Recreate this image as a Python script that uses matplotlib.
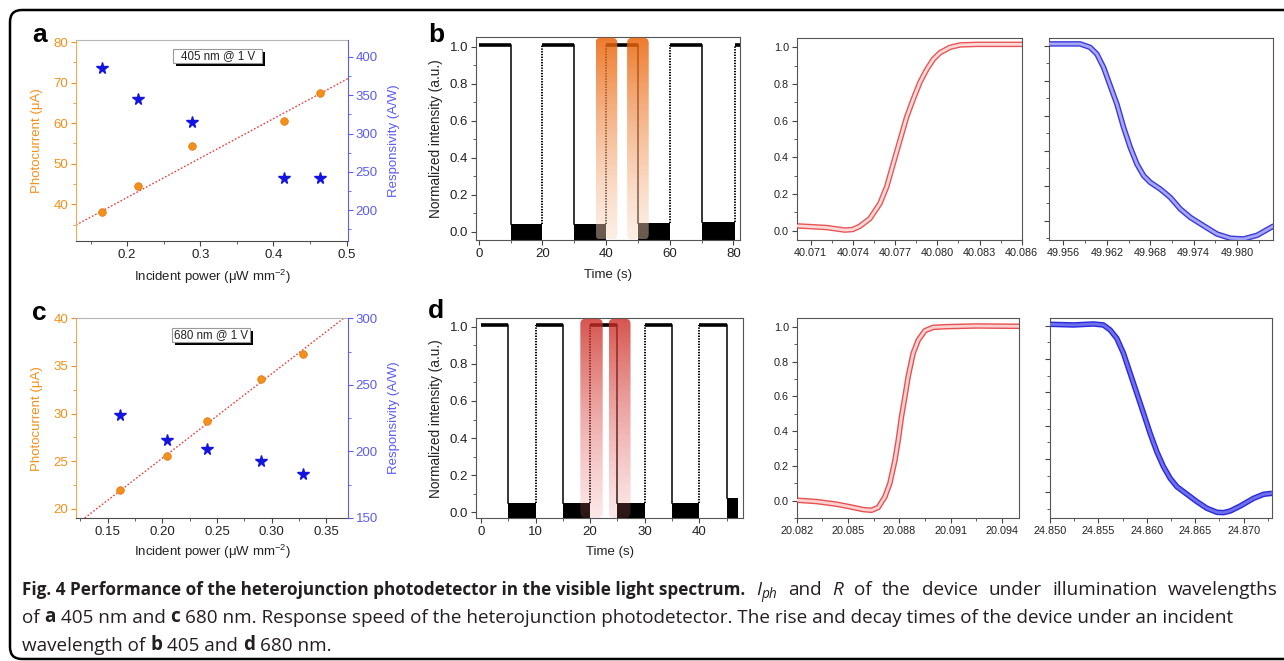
import numpy as np
import matplotlib
matplotlib.use("Agg")
import matplotlib.pyplot as plt
from matplotlib import font_manager as fm
from matplotlib.patches import FancyBboxPatch, Rectangle
from matplotlib.colors import LinearSegmentedColormap
from matplotlib.ticker import (MultipleLocator, AutoMinorLocator,
                               FormatStrFormatter, FixedLocator)

# ------------------------------------------------------------------ data
# panel a : 405 nm @ 1 V
a_power = [0.165, 0.215, 0.288, 0.415, 0.464]
a_photocurrent = [38.0, 44.4, 54.4, 60.5, 67.4]
a_responsivity = [385.5, 345.0, 315.0, 242.5, 242.5]
a_fit_power = [0.130, 0.502]
a_fit_current = [34.9, 71.0]

# panel c : 680 nm @ 1 V
c_power = [0.161, 0.204, 0.241, 0.290, 0.329]
c_photocurrent = [21.96, 25.6, 29.2, 33.6, 36.3]
c_responsivity = [227.6, 208.3, 202.0, 192.7, 183.2]
c_fit_power = [0.129, 0.366]
c_fit_current = [19.05, 40.0]

# panel b : on/off switching (405 nm)
b_high_start = [0, 20, 40, 60, 80.5]
b_high_end = [10, 30, 50, 70, 82.2]
b_high_level = 1.012
b_low_start = [10, 30, 50, 70]
b_low_end = [20, 40, 60, 80.5]
b_low_top = [0.042, 0.042, 0.045, 0.052]
b_floor = -0.06
b_hl_start = [36.7, 46.6]
b_hl_end = [43.5, 53.4]

# panel d : on/off switching (680 nm)
d_high_start = [0, 10, 20, 30, 40]
d_high_end = [5, 15, 25, 35, 45]
d_high_level = 1.008
d_low_start = [5, 15, 25, 35, 45]
d_low_end = [10, 20, 30, 40, 47.1]
d_low_top = [0.05, 0.05, 0.05, 0.05, 0.075]
d_floor = -0.05
d_hl_start = [18.2, 23.4]
d_hl_end = [22.3, 27.4]

# rise (b, 405 nm)
b_rise_t = [40.07000, 40.07212, 40.07342, 40.07397, 40.07449, 40.07521,
            40.07592, 40.07640, 40.07687, 40.07735, 40.07782, 40.07830,
            40.07877, 40.07925, 40.07972, 40.08020, 40.08091, 40.08163,
            40.08281, 40.08602]
b_rise_v = [0.027, 0.018, 0.004, 0.007, 0.025, 0.067, 0.149, 0.24, 0.367,
            0.495, 0.62, 0.72, 0.81, 0.88, 0.935, 0.971, 1.0, 1.013, 1.016,
            1.016]
b_rise_xticks = [40.071, 40.074, 40.077, 40.080, 40.083, 40.086]

# decay (b, 405 nm)
b_decay_t = [49.95402, 49.95831, 49.95969, 49.96062, 49.96154, 49.96246,
             49.96338, 49.96431, 49.96523, 49.96615, 49.96708, 49.96800,
             49.96938, 49.97077, 49.97215, 49.97354, 49.97538, 49.97723,
             49.97908, 49.98092, 49.98277, 49.98508]
b_decay_v = [1.01, 1.01, 0.99, 0.952, 0.876, 0.771, 0.667, 0.533, 0.419,
             0.324, 0.257, 0.219, 0.181, 0.133, 0.067, 0.019, -0.029, -0.076,
             -0.100, -0.104, -0.083, -0.029]
b_decay_xticks = [49.956, 49.962, 49.968, 49.974, 49.980]

# rise (d, 680 nm)
d_rise_t = [20.08200, 20.08317, 20.08433, 20.08511, 20.08589, 20.08637,
            20.08676, 20.08715, 20.08744, 20.08774, 20.08793, 20.08812,
            20.08832, 20.08851, 20.08880, 20.08910, 20.08949, 20.08997,
            20.09075, 20.09250, 20.09499]
d_rise_v = [0.004, -0.004, -0.019, -0.034, -0.050, -0.054, -0.038, 0.023,
            0.10, 0.234, 0.349, 0.483, 0.598, 0.713, 0.847, 0.923, 0.977,
            0.996, 1.0, 1.004, 1.002]
d_rise_xticks = [20.082, 20.085, 20.088, 20.091, 20.094]

# decay (d, 680 nm)
d_decay_t = [24.85000, 24.85241, 24.85448, 24.85552, 24.85621, 24.85690,
             24.85759, 24.85828, 24.85897, 24.85966, 24.86034, 24.86103,
             24.86172, 24.86241, 24.86310, 24.86379, 24.86448, 24.86517,
             24.86621, 24.86724, 24.86793, 24.86862, 24.86966, 24.87103,
             24.87207, 24.87293]
d_decay_v = [1.008, 1.004, 1.01, 1.004, 0.974, 0.924, 0.834, 0.714, 0.594,
             0.474, 0.354, 0.244, 0.154, 0.084, 0.034, 0.004, -0.026, -0.056,
             -0.096, -0.12, -0.122, -0.112, -0.082, -0.036, -0.012, -0.006]
d_decay_xticks = [24.850, 24.855, 24.860, 24.865, 24.870]

norm_yticks = [0.0, 0.2, 0.4, 0.6, 0.8, 1.0]

# ------------------------------------------------------------------ style
plt.rcParams['font.family'] = ['Liberation Sans', 'DejaVu Sans']
plt.rcParams['mathtext.fontset'] = 'custom'
plt.rcParams['mathtext.rm'] = 'Liberation Sans'
plt.rcParams['mathtext.it'] = 'Liberation Sans:italic'
plt.rcParams['mathtext.bf'] = 'Liberation Sans:bold'
plt.rcParams['axes.linewidth'] = 0.8

ORANGE = '#F39019'
ORANGE_DARK = '#E07810'
ORANGE_SPINE = '#F5A84E'
BLUE_AX = '#5C5CF2'
STAR_BLUE = '#1414E0'
FIT_RED = '#E8413C'
DARK = '#222222'

_avail = {f.name for f in fm.fontManager.ttflist}
if 'Liberation Sans Narrow' in _avail:
    CAP_FAMILY, CAP_SIZE, CAP_BOLD, SPACE_EM = 'Liberation Sans Narrow', 15.5, 14.0, 0.23
else:
    CAP_FAMILY, CAP_SIZE, CAP_BOLD, SPACE_EM = 'Open Sans', 13.6, 12.3, 0.26

FW, FH = 1284, 661
fig = plt.figure(figsize=(FW / 100, FH / 100), dpi=100)


def rect(l, t, r, b):
    return [l / FW, 1 - b / FH, (r - l) / FW, (b - t) / FH]


def base_ticks(ax, size=9):
    ax.tick_params(which='major', direction='out', length=3.5, width=0.8,
                   labelsize=size, pad=2)
    ax.tick_params(which='minor', direction='out', length=2, width=0.6)


# ------------------------------------------------------------------ a & c
def power_panel(rc, power, cur, resp, fit_p, fit_c, xlim, ylim, y2lim,
                xmaj, xmin_, ymaj, ymin_, y2maj, y2min_, label_text, boxr,
                xl_y):
    ax = fig.add_axes(rect(*rc))
    ax.plot(fit_p, fit_c, color=FIT_RED, lw=1.0, ls=(0, (1.2, 1.4)), zorder=2)
    ax.plot(power, cur, 'o', ms=5.5, mfc=ORANGE, mec=ORANGE_DARK, mew=0.5,
            zorder=3)
    ax.set_xlim(*xlim)
    ax.set_ylim(*ylim)
    ax2 = ax.twinx()
    ax2.plot(power, resp, '*', ms=8.5, color=STAR_BLUE, mec=STAR_BLUE,
             zorder=3)
    ax2.set_ylim(*y2lim)
    ax.xaxis.set_major_locator(MultipleLocator(xmaj))
    ax.xaxis.set_minor_locator(MultipleLocator(xmin_))
    ax.yaxis.set_major_locator(MultipleLocator(ymaj))
    ax.yaxis.set_minor_locator(MultipleLocator(ymin_))
    ax2.yaxis.set_major_locator(MultipleLocator(y2maj))
    ax2.yaxis.set_minor_locator(MultipleLocator(y2min_))
    base_ticks(ax, 9.5)
    base_ticks(ax2, 9.5)
    ax.spines['left'].set_color(ORANGE_SPINE)
    ax.spines['top'].set_color('#B5B5B5')
    ax.spines['bottom'].set_color('#4A4A4A')
    ax.spines['right'].set_visible(False)
    for s in ['left', 'top', 'bottom']:
        ax2.spines[s].set_visible(False)
    ax2.spines['right'].set_color(BLUE_AX)
    ax.tick_params(axis='y', which='both', colors=ORANGE)
    ax.tick_params(axis='x', which='both', colors='#444444',
                   labelcolor=DARK)
    ax2.tick_params(axis='y', which='both', colors=BLUE_AX)
    ax.set_ylabel('Photocurrent (μA)', color=ORANGE, fontsize=9.5,
                  va='center')
    ax.yaxis.set_label_coords(-0.142, 0.5)
    ax2.set_ylabel('Responsivity (A/W)', color=BLUE_AX, fontsize=9.5,
                   va='center')
    ax2.yaxis.set_label_coords(1.169, 0.5)
    ax.set_xlabel('Incident power (μW mm$^{-2}$)', color=DARK, fontsize=9.5,
                  va='center')
    ax.xaxis.set_label_coords(0.5, xl_y)
    # annotation box with drop shadow
    x0, y0, x1, y1 = boxr
    sx, sy = 3 / (rc[2] - rc[0]), 3 / (rc[3] - rc[1])
    ax.add_patch(Rectangle((x0 + sx, y0 - sy), x1 - x0, y1 - y0,
                           transform=ax.transAxes, fc='black', ec='none',
                           zorder=4))
    ax.add_patch(Rectangle((x0, y0), x1 - x0, y1 - y0,
                           transform=ax.transAxes, fc='white', ec='#9A9A9A',
                           lw=0.8, zorder=5))
    ax.text((x0 + x1) / 2, (y0 + y1) / 2, label_text, transform=ax.transAxes,
            ha='center', va='center', fontsize=8.3, color=DARK, zorder=6)
    ax2.set_zorder(ax.get_zorder() + 1)
    ax2.patch.set_visible(False)
    return ax, ax2


axA, axA2 = power_panel((76, 40, 348, 241), a_power, a_photocurrent,
                        a_responsivity, a_fit_power, a_fit_current,
                        (0.130, 0.502), (30.96, 80.5), (160, 422),
                        0.1, 0.05, 10, 5, 50, 25, '405 nm @ 1 V',
                        (0.357, 0.886, 0.684, 0.955), -0.179)
axC, axC2 = power_panel((76, 318.3, 348, 518), c_power, c_photocurrent,
                        c_responsivity, c_fit_power, c_fit_current,
                        (0.121, 0.370), (19.05, 40.0), (150, 300),
                        0.05, 0.025, 5, 2.5, 50, 25, '680 nm @ 1 V',
                        (0.352, 0.883, 0.640, 0.950), -0.170)


# ------------------------------------------------------------------ b & d
def highlight(ax, rc, x0, x1, c_bot, c_top, radius_px=5):
    xlim, ylim = ax.get_xlim(), ax.get_ylim()
    w_px, h_px = rc[2] - rc[0], rc[3] - rc[1]
    xpp = (xlim[1] - xlim[0]) / w_px
    ypp = (ylim[1] - ylim[0]) / h_px
    y0, y1 = ylim[0] + 0.5 * ypp, ylim[1] - 0.5 * ypp
    patch = FancyBboxPatch((x0, y0), x1 - x0, y1 - y0,
                           boxstyle=f'round,pad=0,rounding_size={radius_px * xpp}',
                           mutation_aspect=ypp / xpp, transform=ax.transData,
                           fc='none', ec='none')
    ax.add_patch(patch)
    cmap = LinearSegmentedColormap.from_list('g', [c_bot, c_top])
    grad = np.linspace(0, 1, 256).reshape(-1, 1)
    im = ax.imshow(grad, extent=[x0, x1, y0, y1], origin='lower',
                   aspect='auto', cmap=cmap, zorder=3, interpolation='bilinear')
    im.set_clip_path(patch)
    ax.set_xlim(*xlim)
    ax.set_ylim(*ylim)


def switching_panel(rc, hs, he, level, ls_, le_, tops, floor, xlim, ylim,
                    xmaj, xmin_, hl_s, hl_e, c_bot, c_top, xl_y, yl_x):
    ax = fig.add_axes(rect(*rc))
    for s, e in zip(hs, he):
        ax.plot([s, e], [level, level], color='black', lw=2.6,
                solid_capstyle='butt', zorder=2)
    for s, e, top in zip(ls_, le_, tops):
        ax.fill_between([s, e], floor, top, color='black', lw=0, zorder=2)
        ax.plot([s, s], [top, level], color='black', lw=1.1, zorder=2)
    for t, top in zip(hs[1:], tops):
        ax.plot([t, t], [top, level], color='black', lw=1.4,
                ls=(0, (0.7, 0.7)), zorder=2)
    ax.set_xlim(*xlim)
    ax.set_ylim(*ylim)
    ax.xaxis.set_major_locator(MultipleLocator(xmaj))
    ax.xaxis.set_minor_locator(MultipleLocator(xmin_))
    ax.yaxis.set_major_locator(FixedLocator(norm_yticks))
    ax.yaxis.set_major_formatter(FormatStrFormatter('%.1f'))
    ax.yaxis.set_minor_locator(AutoMinorLocator(2))
    base_ticks(ax, 9.5)
    ax.tick_params(which='both', colors='#444444', labelcolor=DARK)
    for s in ax.spines.values():
        s.set_color('#555555')
    for s0, s1 in zip(hl_s, hl_e):
        highlight(ax, rc, s0, s1, c_bot, c_top)
    ax.set_ylabel('Normalized intensity (a.u.)', fontsize=9.8, color=DARK,
                  va='center')
    ax.yaxis.set_label_coords(yl_x, 0.5)
    ax.set_xlabel('Time (s)', fontsize=9.5, color=DARK, va='center')
    ax.xaxis.set_label_coords(0.5, xl_y)
    return ax


axB = switching_panel((475.7, 37.3, 740, 240), b_high_start, b_high_end,
                      b_high_level, b_low_start, b_low_end, b_low_top,
                      b_floor, (-1.0, 82.1), (-0.045, 1.051), 20, 10,
                      b_hl_start, b_hl_end,
                      (0.98, 0.85, 0.76, 0.42), (0.92, 0.38, 0.02, 0.84),
                      -0.175, -0.150)
axD = switching_panel((475.7, 318.3, 743.3, 518.3), d_high_start, d_high_end,
                      d_high_level, d_low_start, d_low_end, d_low_top,
                      d_floor, (-0.97, 48.06), (-0.032, 1.045), 10, 5,
                      d_hl_start, d_hl_end,
                      (0.93, 0.50, 0.50, 0.18), (0.80, 0.17, 0.14, 0.80),
                      -0.171, -0.148)


# ------------------------------------------------------------------ insets
def transient(rc, t, v, xlim, ylim, xticks, edge, fill, ylabels):
    ax = fig.add_axes(rect(*rc))
    ax.plot(t, v, color=edge, lw=4.0, solid_capstyle='butt',
            solid_joinstyle='round', zorder=2)
    ax.plot(t, v, color=fill, lw=2.0, solid_capstyle='butt',
            solid_joinstyle='round', zorder=3)
    ax.set_xlim(*xlim)
    ax.set_ylim(*ylim)
    ax.xaxis.set_major_locator(FixedLocator(xticks))
    ax.xaxis.set_major_formatter(FormatStrFormatter('%.3f'))
    ax.xaxis.set_minor_locator(AutoMinorLocator(2))
    ax.yaxis.set_major_locator(FixedLocator(norm_yticks))
    ax.yaxis.set_major_formatter(FormatStrFormatter('%.1f'))
    ax.yaxis.set_minor_locator(AutoMinorLocator(2))
    base_ticks(ax, 7.8)
    ax.tick_params(which='both', colors='#444444', labelcolor=DARK)
    if not ylabels:
        ax.tick_params(axis='y', labelleft=False)
    for s in ax.spines.values():
        s.set_color('#555555')
    return ax


transient((796.7, 38.3, 1021.7, 240), b_rise_t, b_rise_v, (40.070, 40.086),
          (-0.05, 1.049), b_rise_xticks, '#E85555', '#FBDADA', True)
transient((1049, 38.3, 1273.3, 240), b_decay_t, b_decay_v, (49.954, 49.985),
          (-0.11, 1.042), b_decay_xticks, '#3A3ADE', '#A8A8F2', False)
transient((796.7, 318.3, 1019.3, 518.3), d_rise_t, d_rise_v, (20.082, 20.095),
          (-0.10, 1.048), d_rise_xticks, '#E85050', '#FAD2D2', True)
transient((1050, 318.3, 1271.7, 518.3), d_decay_t, d_decay_v, (24.850, 24.8729),
          (-0.156, 1.044), d_decay_xticks, '#2A2ADE', '#7070EA', False)

# ------------------------------------------------------------------ frame, labels, caption
over = fig.add_axes([0, 0, 1, 1], zorder=-1)
over.set_xlim(0, FW)
over.set_ylim(FH, 0)
over.axis('off')
over.add_patch(FancyBboxPatch((10, 10), 1300, 649,
                              boxstyle='round,pad=0,rounding_size=12',
                              fc='none', ec='black', lw=1.8))

for txt, x, y in [('a', 32, 42), ('b', 428, 41.5), ('c', 32, 320),
                  ('d', 428, 318)]:
    over.text(x, y, txt, fontsize=19, fontweight='bold', va='baseline',
              ha='left', color='black')


def caption_line(pieces, x, y, right=None, stretch_from=1):
    texts = []
    prev = None
    for txt, style, gap, dy in pieces:
        kw = dict(fontsize=CAP_SIZE, family=[CAP_FAMILY, 'DejaVu Sans'],
                  color='#231F20')
        if style == 'b':
            kw['fontweight'] = 'bold'
            kw['fontsize'] = CAP_BOLD
        elif style == 'bl':  # bold panel letter inside running text
            kw['fontweight'] = 'bold'
        elif style == 'i':
            kw['fontstyle'] = 'italic'
        elif style == 'sub':
            kw['fontstyle'] = 'italic'
            kw['fontsize'] = CAP_SIZE * 0.72
        if prev is None:
            prev = over.text(x, y, txt, va='baseline', ha='left', **kw)
        else:
            prev = over.annotate(txt, xy=(1, 0), xycoords=prev,
                                 xytext=(gap * SPACE_EM * CAP_SIZE, dy),
                                 textcoords='offset points', va='bottom',
                                 ha='left', **kw)
        texts.append(prev)
    if right is not None:
        # justify: spread the remaining room over the word gaps
        rend = fig.canvas.get_renderer()
        cur = texts[-1].get_window_extent(rend).x1
        idx = [i for i in range(stretch_from, len(pieces)) if pieces[i][2] > 0]
        extra_pt = (right - cur) / len(idx) * 72.0 / fig.dpi
        for i in idx:
            ox, oy = texts[i].xyann
            texts[i].xyann = (ox + extra_pt, oy)
    return texts


line1_words = ['and', 'R', 'of', 'the', 'device', 'under', 'illumination',
               'wavelengths']
line1 = [('Fig. 4 Performance of the heterojunction photodetector in the '
          'visible light spectrum.', 'b', 0, 0),
         ('I', 'i', 1, 0), ('ph', 'sub', 0, -2.5)]
for k, w in enumerate(line1_words):
    line1.append((w, 'i' if w == 'R' else 'r', 1, 2.5 if k == 0 else 0))
caption_line(line1, 22, 595, right=1278)
caption_line([
    ('of', 'r', 0, 0), ('a', 'bl', 1, 0), ('405 nm and', 'r', 1, 0),
    ('c', 'bl', 1, 0),
    ('680 nm. Response speed of the heterojunction photodetector. The rise '
     'and decay times of the device under an incident', 'r', 1, 0)], 22, 623)
caption_line([
    ('wavelength of', 'r', 0, 0), ('b', 'bl', 1, 0), ('405 and', 'r', 1, 0),
    ('d', 'bl', 1, 0), ('680 nm.', 'r', 1, 0)], 22, 651)

fig.savefig('out.png', dpi=100)
